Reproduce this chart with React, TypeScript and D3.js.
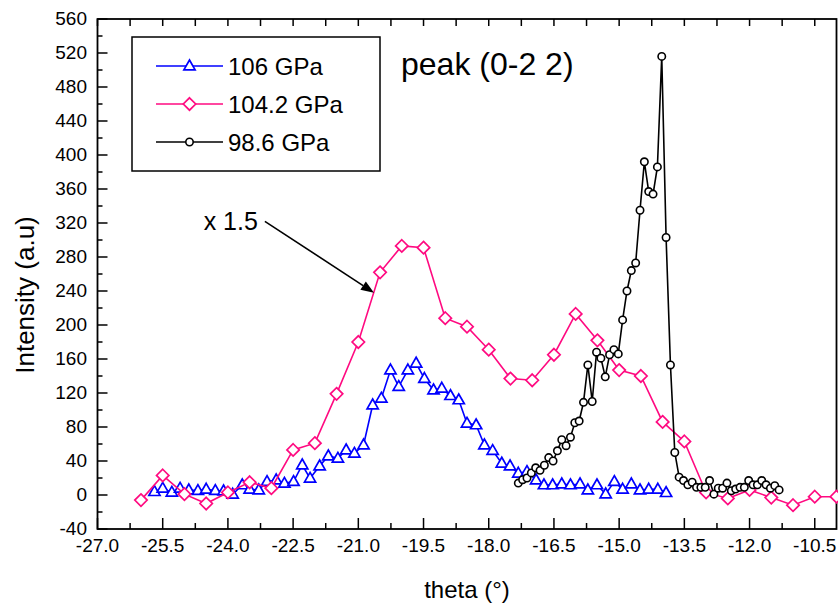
import React from 'react';
import * as d3 from 'd3';

// ---------- data ----------
const theta106 = [-25.69,-25.5,-25.29,-25.1,-24.9,-24.69,-24.5,-24.29,-24.1,-23.89,-23.67,-23.5,-23.29,-23.1,-22.89,-22.7,-22.49,-22.29,-22.11,-21.89,-21.69,-21.47,-21.28,-21.09,-20.88,-20.67,-20.47,-20.26,-20.07,-19.86,-19.67,-19.48,-19.27,-19.08,-18.88,-18.69,-18.5,-18.29,-18.1,-17.91,-17.7,-17.51,-17.32,-17.12,-16.91,-16.73,-16.53,-16.32,-16.12,-15.9,-15.72,-15.51,-15.31,-15.11,-14.92,-14.72,-14.52,-14.32,-14.11,-13.92];
const intensity106 = [3.9,7.8,3.1,7.8,5.9,5.1,6.7,5.1,4.7,0.8,11.8,6.7,5.9,15.7,17.6,13.7,15.7,35.3,19.6,34.1,45.9,43.1,52.9,49,58.8,105.9,113.7,147,127.5,147,155,137,123.5,125.5,116.8,111.8,84.3,82.4,58.8,52.2,37.3,34.1,25.5,27.5,17.6,11.8,11.8,12.9,11.8,12.9,5.9,11.8,1.2,15.7,6.7,12.9,5.9,6.7,6.7,2.7];

const theta1042 = [-26,-25.5,-25,-24.5,-24,-23.5,-23,-22.5,-22,-21.5,-21,-20.5,-20,-19.5,-19,-18.5,-18,-17.5,-17,-16.5,-16,-15.5,-15,-14.5,-14,-13.5,-13,-12.5,-12,-11.5,-11,-10.5,-10];
const intensity1042 = [-6,23,1,-10,3,15,8,53,61,119,180,262,293,291,208,198,171,137,135,165,213,182,147,140,86,63,3,-4,6,-3,-12,-2,-2];

const theta986 = [-17.32,-17.22,-17.12,-17.02,-16.92,-16.82,-16.72,-16.62,-16.52,-16.42,-16.32,-16.22,-16.12,-16.02,-15.92,-15.82,-15.72,-15.62,-15.52,-15.42,-15.32,-15.22,-15.12,-15.02,-14.92,-14.82,-14.72,-14.62,-14.52,-14.42,-14.32,-14.22,-14.12,-14.02,-13.92,-13.82,-13.72,-13.62,-13.52,-13.42,-13.32,-13.22,-13.12,-13.02,-12.92,-12.82,-12.72,-12.62,-12.52,-12.42,-12.32,-12.22,-12.12,-12.02,-11.92,-11.82,-11.72,-11.62,-11.52,-11.42,-11.32];
const intensity986 = [14,18,20,26,32,29,35,44,40,52,65,58,68,85,87,109,153,110,168,161,139,165,171,166,206,240,264,273,335,392,357,354,386,516,303,153,50,21,17,12,15,9,9,9,17,1,8,8,14,5,7,9,9,17,12,12,17,12,8,11,6];

const legendLabels = ['106 GPa', '104.2 GPa', '98.6 GPa'];
const xMajorTicks = [-27, -25.5, -24, -22.5, -21, -19.5, -18, -16.5, -15, -13.5, -12, -10.5];
const xMinorTicks = [-26.25, -24.75, -23.25, -21.75, -20.25, -18.75, -17.25, -15.75, -14.25, -12.75, -11.25];
const yMajorTicks = [-40, 0, 40, 80, 120, 160, 200, 240, 280, 320, 360, 400, 440, 480, 520, 560];
const yMinorTicks = [-20, 20, 60, 100, 140, 180, 220, 260, 300, 340, 380, 420, 460, 500, 540];
const annotationText = 'x 1.5';
const titleText = 'peak (0-2 2)';

// ---------- layout ----------
const W = 838, H = 606;
const L = 97.5, R = 836.5, T = 19, B = 529;
const FONT = '"Liberation Sans", Arial, Helvetica, sans-serif';
const BLUE = '#0000ff', PINK = '#ff0a80', BLACK = '#000000';

const x = d3.scaleLinear().domain([-27, -10]).range([L, R]);
const y = d3.scaleLinear().domain([-40, 560]).range([B, T]);

const triPath = 'M0,-6 L5.6,3.8 L-5.6,3.8 Z';
const diaPath = 'M0,-6.2 L6.2,0 L0,6.2 L-6.2,0 Z';

function Marker({ kind, color }: { kind: string; color: string }) {
  if (kind === 'tri') return <path d={triPath} fill="#fff" stroke={color} strokeWidth={1.7} />;
  if (kind === 'dia') return <path d={diaPath} fill="#fff" stroke={color} strokeWidth={1.7} />;
  return <circle r={3.7} fill="#fff" stroke={color} strokeWidth={1.6} />;
}

function Series({ xs, ys, color, kind }: { xs: number[]; ys: number[]; color: string; kind: string }) {
  const pts = xs.map((v, i) => [v, ys[i]] as [number, number]);
  const line = d3.line<[number, number]>().x(d => x(d[0])).y(d => y(d[1]));
  return (
    <g>
      <path d={line(pts) || ''} fill="none" stroke={color} strokeWidth={1.6} />
      {pts.map((d, i) => (
        <g key={i} transform={`translate(${x(d[0])},${y(d[1])})`}>
          <Marker kind={kind} color={color} />
        </g>
      ))}
    </g>
  );
}

export default function App() {
  const legendRows = [
    { label: legendLabels[0], color: BLUE, kind: 'tri' },
    { label: legendLabels[1], color: PINK, kind: 'dia' },
    { label: legendLabels[2], color: BLACK, kind: 'circ' },
  ];
  const arrowStart = [x(-23.15), y(322)];
  const arrowEnd = [x(-20.64), y(238)];
  const ang = Math.atan2(arrowEnd[1] - arrowStart[1], arrowEnd[0] - arrowStart[0]);
  const ah = 13, aw = 5;
  const ax = arrowEnd[0] - ah * Math.cos(ang), ay = arrowEnd[1] - ah * Math.sin(ang);
  const head = `M${arrowEnd[0]},${arrowEnd[1]} L${ax - aw * Math.sin(ang)},${ay + aw * Math.cos(ang)} L${ax + aw * Math.sin(ang)},${ay - aw * Math.cos(ang)} Z`;

  return (
    <svg width={W} height={H} style={{ position: 'absolute', left: 0, top: 0, background: '#fff' }} fontFamily={FONT}>
      <rect x={0} y={0} width={W} height={H} fill="#fff" />
      {/* frame */}
      <rect x={L} y={T} width={R - L} height={B - T} fill="none" stroke="#000" strokeWidth={1.8} />
      {/* bottom ticks */}
      {xMajorTicks.map(t => (
        <g key={'bx' + t}>
          <line x1={x(t)} x2={x(t)} y1={B} y2={B - 11} stroke="#000" strokeWidth={1.5} />
          <text x={x(t)} y={552} textAnchor="middle" fontSize={19}>{d3.format('.1f')(t).replace('−', '-')}</text>
          <line x1={x(t)} x2={x(t)} y1={T} y2={T + 7} stroke="#000" strokeWidth={1.5} />
        </g>
      ))}
      {xMinorTicks.map(t => (
        <g key={'mx' + t}>
          <line x1={x(t)} x2={x(t)} y1={B} y2={B - 6} stroke="#000" strokeWidth={1.5} />
          <line x1={x(t)} x2={x(t)} y1={T} y2={T + 7} stroke="#000" strokeWidth={1.5} />
        </g>
      ))}
      {/* left ticks */}
      {yMajorTicks.map(t => (
        <g key={'by' + t}>
          <line x1={L} x2={L + 10} y1={y(t)} y2={y(t)} stroke="#000" strokeWidth={1.5} />
          <text x={87} y={y(t)} dy="0.34em" textAnchor="end" fontSize={19}>{String(t)}</text>
        </g>
      ))}
      {yMinorTicks.map(t => (
        <line key={'my' + t} x1={L} x2={L + 5} y1={y(t)} y2={y(t)} stroke="#000" strokeWidth={1.5} />
      ))}
      {/* axis titles */}
      <text x={(L + R) / 2} y={598} textAnchor="middle" fontSize={24}>theta (°)</text>
      <text transform={`translate(34,295) rotate(-90)`} textAnchor="middle" fontSize={26}>Intensity (a.u)</text>

      {/* series */}
      <Series xs={theta106} ys={intensity106} color={BLUE} kind="tri" />
      <Series xs={theta1042} ys={intensity1042} color={PINK} kind="dia" />
      <Series xs={theta986} ys={intensity986} color={BLACK} kind="circ" />

      {/* legend */}
      <rect x={132} y={37} width={248} height={134} fill="#fff" stroke="#000" strokeWidth={1.5} />
      {legendRows.map((r, i) => {
        const cy = 66 + i * 38;
        return (
          <g key={r.label}>
            <line x1={156} x2={223} y1={cy} y2={cy} stroke={r.color} strokeWidth={1.6} />
            <g transform={`translate(189.5,${cy})`}><Marker kind={r.kind} color={r.color} /></g>
            <text x={228} y={cy + 9} fontSize={24}>{r.label}</text>
          </g>
        );
      })}

      {/* title */}
      <text x={401} y={75} fontSize={32}>{titleText}</text>

      {/* annotation */}
      <line x1={arrowStart[0]} y1={arrowStart[1]} x2={ax} y2={ay} stroke="#000" strokeWidth={1.6} />
      <path d={head} fill="#000" />
      <text x={arrowStart[0] - 7} y={arrowStart[1] + 9} textAnchor="end" fontSize={25}>{annotationText}</text>
    </svg>
  );
}
